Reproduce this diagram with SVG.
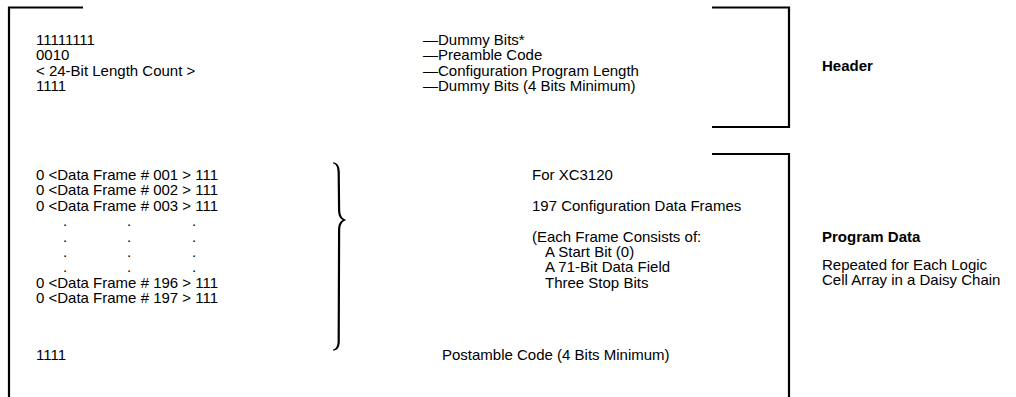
<svg xmlns="http://www.w3.org/2000/svg" width="1016" height="397" viewBox="0 0 1016 397">
<style>
text{font-family:"Liberation Sans",Arial,sans-serif;font-size:15px;fill:#000}
.b{font-weight:bold}
.frame{fill:none;stroke:#000;stroke-width:2.2}
.brace{fill:#000;stroke:none}
</style>
<rect width="1016" height="397" fill="#fff"/>
<g id="connectors">
<path class="frame" d="M83,7.5 H9 V397"/>
<path class="frame" d="M712,7.5 H789 V127 H712"/>
<path class="frame" d="M712,154 H789 V397"/>
<path class="brace" d="M333,162.5 C337,162.5 339.5,165 339.8,172 L340.2,210 C340.3,216 342.5,219 346.5,220 C342.5,221 340.3,224 340.2,230 L339.8,342 C339.5,348 337,350.5 333,350.5 L333,349.5 C336,349 337.4,346 337.6,342 L338,230 C338.2,224 340,221.5 343,220 C340,218.5 338.2,216 338,210 L337.6,172 C337.4,167 336,163.5 333,163.5 Z"/>
</g>
<g id="header">
<text x="36" y="45">11111111</text>
<text x="36" y="60">0010</text>
<text x="36" y="76">&lt; 24-Bit Length Count &gt;</text>
<text x="36" y="91">1111</text>
<text x="423" y="45">—Dummy Bits*</text>
<text x="423" y="60">—Preamble Code</text>
<text x="423" y="76">—Configuration Program Length</text>
<text x="423" y="91">—Dummy Bits (4 Bits Minimum)</text>
<text class="b" x="822" y="71">Header</text>
</g>
<g id="program-data">
<text x="36" y="180">0 &lt;Data Frame # 001 &gt; 111</text>
<text x="36" y="195.4">0 &lt;Data Frame # 002 &gt; 111</text>
<text x="36" y="210.8">0 &lt;Data Frame # 003 &gt; 111</text>
<text x="63" y="226.2">.</text><text x="127" y="226.2">.</text><text x="192" y="226.2">.</text>
<text x="63" y="241.6">.</text><text x="127" y="241.6">.</text><text x="192" y="241.6">.</text>
<text x="63" y="257">.</text><text x="127" y="257">.</text><text x="192" y="257">.</text>
<text x="63" y="272.4">.</text><text x="127" y="272.4">.</text><text x="192" y="272.4">.</text>
<text x="36" y="287.8">0 &lt;Data Frame # 196 &gt; 111</text>
<text x="36" y="303.2">0 &lt;Data Frame # 197 &gt; 111</text>
<text x="532" y="180">For XC3120</text>
<text x="532" y="210.8">197 Configuration Data Frames</text>
<text x="532" y="241.6">(Each Frame Consists of:</text>
<text x="545" y="257">A Start Bit (0)</text>
<text x="545" y="272.4">A 71-Bit Data Field</text>
<text x="545" y="287.8">Three Stop Bits</text>
<text class="b" x="822" y="241.6">Program Data</text>
<text x="822" y="270">Repeated for Each Logic</text>
<text x="822" y="285.4">Cell Array in a Daisy Chain</text>
</g>
<g id="postamble">
<text x="36" y="360">1111</text>
<text x="442" y="360">Postamble Code (4 Bits Minimum)</text>
</g>
</svg>
